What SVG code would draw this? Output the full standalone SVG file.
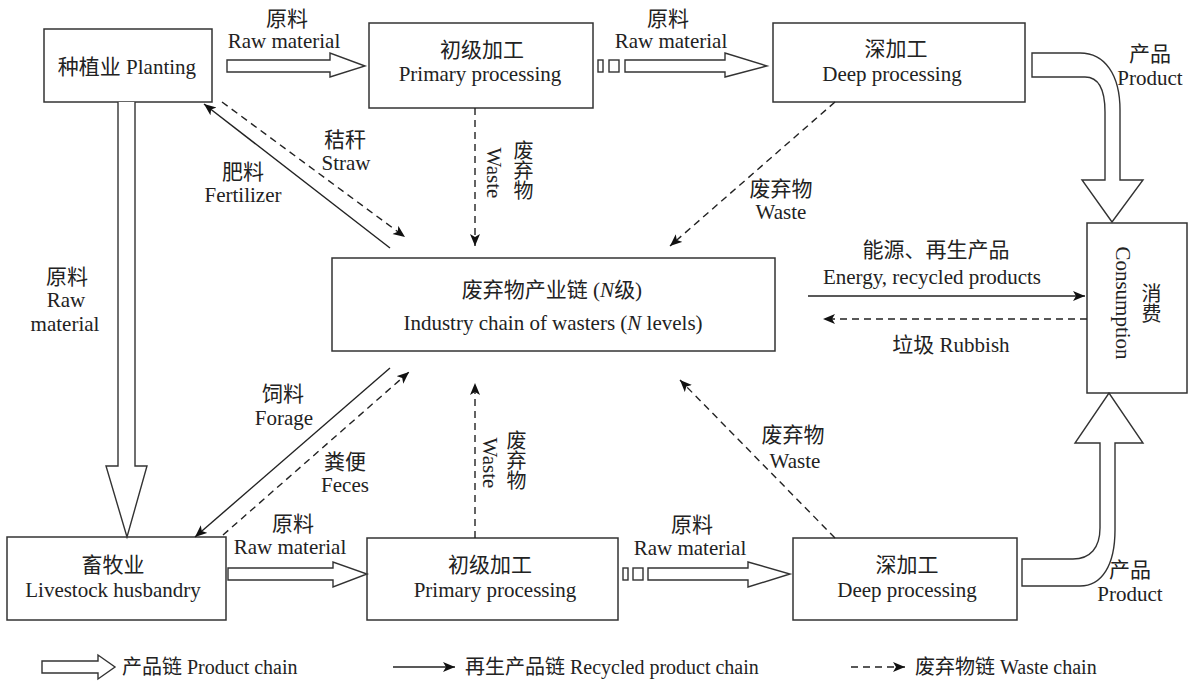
<svg xmlns="http://www.w3.org/2000/svg" width="1191" height="686" viewBox="0 0 1191 686">
<defs>
<style>
text{font-family:"Liberation Serif","Noto Sans CJK SC",serif;font-size:21px;fill:#222;text-anchor:middle}
.lg{font-size:20px;text-anchor:start}
.vt{writing-mode:vertical-rl;font-size:20px}
.box{fill:#fff;stroke:#333;stroke-width:1.5}
.hol{fill:#fff;stroke:#333;stroke-width:1.4;stroke-linejoin:miter}
.sol{fill:none;stroke:#222;stroke-width:1.4}
.dash{fill:none;stroke:#222;stroke-width:1.4;stroke-dasharray:7 5}
</style>
<marker id="ah" markerUnits="userSpaceOnUse" markerWidth="14" markerHeight="12" refX="12" refY="5" orient="auto">
<path d="M0,0 L12,5 L0,10 L3,5 z" fill="#111"/>
</marker>
</defs>

<g id="planting"><rect class="box" x="44" y="29" width="168" height="73"/><text x="127" y="74">种植业 Planting</text></g>
<g id="primary-top"><rect class="box" x="369" y="23" width="224" height="85"/><text x="482" y="57">初级加工</text><text x="480" y="81">Primary processing</text></g>
<g id="deep-top"><rect class="box" x="773" y="23" width="252" height="79"/><text x="896" y="56">深加工</text><text x="892" y="81">Deep processing</text></g>
<g id="waste-chain"><rect class="box" x="332" y="258" width="443" height="93"/><text x="552" y="297">废弃物产业链 (<tspan font-style="italic">N</tspan>级)</text><text x="553" y="330">Industry chain of wasters (<tspan font-style="italic">N</tspan> levels)</text></g>
<g id="consumption"><rect class="box" x="1087" y="223" width="100" height="170"/><text transform="translate(1116,303) rotate(90)" x="0" y="0">Consumption</text><text class="vt" x="1150" y="303">消费</text></g>
<g id="livestock"><rect class="box" x="7" y="537" width="219" height="83"/><text x="113" y="572">畜牧业</text><text x="113" y="597">Livestock husbandry</text></g>
<g id="primary-bottom"><rect class="box" x="367" y="538" width="251" height="82"/><text x="490" y="572">初级加工</text><text x="495" y="597">Primary processing</text></g>
<g id="deep-bottom"><rect class="box" x="793" y="538" width="224" height="82"/><text x="907" y="572">深加工</text><text x="907" y="597">Deep processing</text></g>

<g id="connectors">
<path class="hol" d="M227,60 H330 V53 L365,66 L330,77 V72 H227 Z"/>
<rect class="hol" x="598" y="60" width="5" height="12"/>
<rect class="hol" x="609" y="60" width="10" height="12"/>
<path class="hol" d="M625,60 H725 V53 L767,66 L725,77 V72 H625 Z"/>
<path class="hol" d="M118,102 V466 H106 L127,537 L147,466 H135 V102"/>
<path class="hol" d="M228,568 H333 V562 L367,574 L333,587 V580 H228 Z"/>
<rect class="hol" x="623" y="568" width="5" height="12"/>
<rect class="hol" x="633" y="568" width="10" height="12"/>
<path class="hol" d="M648,568 H748 V562 L790,574 L748,587 V580 H648 Z"/>
<path class="hol" d="M1032,53 H1080 C1105,53 1120,75 1120,110 V180 H1143 L1112,222 L1082,180 H1105 V112 C1105,88 1098,77 1085,77 H1032 Z"/>
<path class="hol" d="M1022,586 H1080 C1102,586 1115,565 1115,530 V443 H1143 L1109,393 L1075,443 H1100 V528 C1100,548 1090,559 1073,559 H1022 Z"/>
<line class="sol" x1="390" y1="248" x2="204" y2="104" marker-end="url(#ah)"/>
<line class="sol" x1="808" y1="296" x2="1085" y2="296" marker-end="url(#ah)"/>
<line class="sol" x1="390" y1="368" x2="195" y2="537" marker-end="url(#ah)"/>
<line class="dash" x1="222" y1="102" x2="405" y2="237" marker-end="url(#ah)"/>
<line class="dash" x1="475" y1="108" x2="475" y2="246" marker-end="url(#ah)"/>
<line class="dash" x1="835" y1="102" x2="670" y2="246" marker-end="url(#ah)"/>
<line class="dash" x1="1087" y1="319" x2="823" y2="319" marker-end="url(#ah)"/>
<line class="dash" x1="223" y1="535" x2="409" y2="372" marker-end="url(#ah)"/>
<line class="dash" x1="475" y1="538" x2="475" y2="383" marker-end="url(#ah)"/>
<line class="dash" x1="835" y1="538" x2="680" y2="380" marker-end="url(#ah)"/>
</g>

<g id="labels">
<text x="287" y="26">原料</text><text x="284" y="48">Raw material</text>
<text x="668" y="26">原料</text><text x="671" y="48">Raw material</text>
<text x="1150" y="61">产品</text><text x="1150" y="85">Product</text>
<text x="345" y="147">秸秆</text><text x="346" y="170">Straw</text>
<text x="243" y="179">肥料</text><text x="243" y="202">Fertilizer</text>
<text class="vt" x="522" y="170">废弃物</text>
<text transform="translate(487,173) rotate(90)" x="0" y="0">Waste</text>
<text x="781" y="196">废弃物</text><text x="781" y="219">Waste</text>
<text x="936" y="257">能源、再生产品</text><text x="932" y="284">Energy, recycled products</text>
<text x="951" y="352">垃圾 Rubbish</text>
<text x="67" y="284">原料</text><text x="66" y="307">Raw</text><text x="65" y="331">material</text>
<text x="283" y="401">饲料</text><text x="284" y="425">Forage</text>
<text x="345" y="469">粪便</text><text x="345" y="492">Feces</text>
<text x="293" y="531">原料</text><text x="290" y="554">Raw material</text>
<text class="vt" x="515" y="460">废弃物</text>
<text transform="translate(483,463) rotate(90)" x="0" y="0">Waste</text>
<text x="692" y="532">原料</text><text x="690" y="555">Raw material</text>
<text x="793" y="442">废弃物</text><text x="795" y="468">Waste</text>
<text x="1130" y="577">产品</text><text x="1130" y="601">Product</text>
</g>

<g id="legend">
<path class="hol" d="M42,661 H98 V655 L115,667 L98,679 V673 H42 Z"/>
<text class="lg" x="122" y="674">产品链 Product chain</text>
<line class="sol" x1="393" y1="667" x2="455" y2="667" marker-end="url(#ah)"/>
<text class="lg" x="465" y="674">再生产品链 Recycled product chain</text>
<line class="dash" x1="851" y1="667" x2="905" y2="667" stroke-dasharray="6 4" marker-end="url(#ah)"/>
<text class="lg" x="915" y="674">废弃物链 Waste chain</text>
</g>
</svg>
